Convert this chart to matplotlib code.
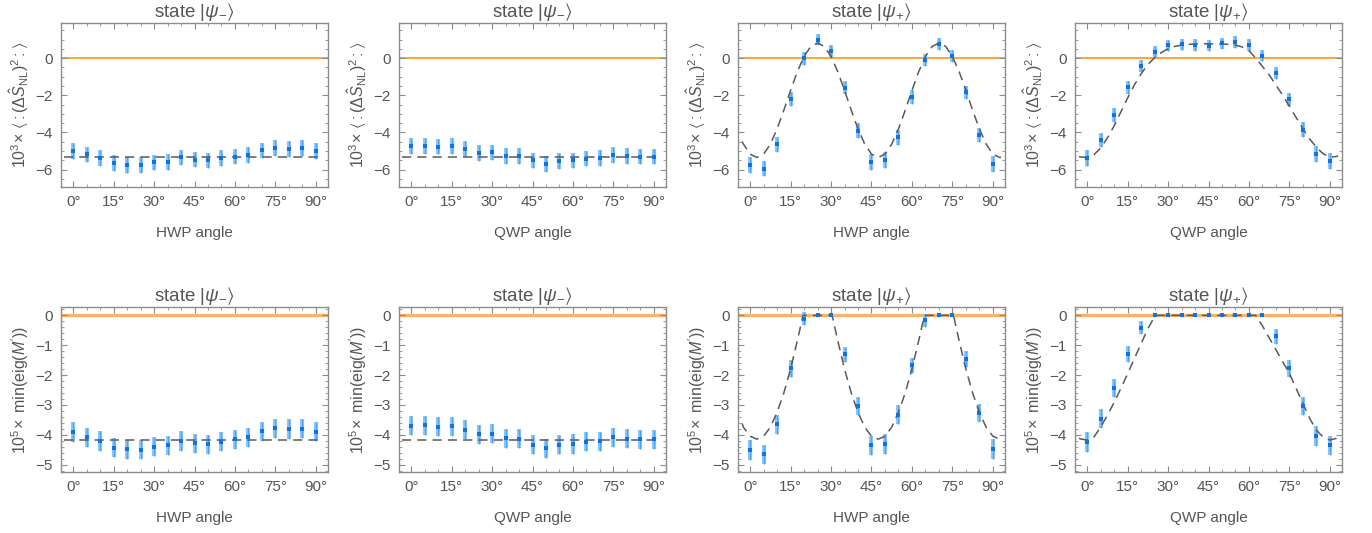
import matplotlib
matplotlib.use("Agg")
import matplotlib.pyplot as plt
from matplotlib.ticker import MultipleLocator, FixedLocator

plt.rcParams['font.family'] = ['Liberation Sans', 'DejaVu Sans']
plt.rcParams['mathtext.fontset'] = 'custom'
plt.rcParams['mathtext.rm'] = 'Liberation Sans'
plt.rcParams['mathtext.it'] = 'Liberation Sans:italic'
plt.rcParams['mathtext.bf'] = 'Liberation Sans:bold'
plt.rcParams['mathtext.fallback'] = 'stixsans'

# ---------------- data ----------------
angles = [0, 5, 10, 15, 20, 25, 30, 35, 40, 45, 50, 55, 60, 65, 70, 75, 80, 85, 90]
xticks = [0, 15, 30, 45, 60, 75, 90]
xticklabels = ["0°", "15°", "30°", "45°", "60°", "75°", "90°"]

titles = [r"state $|\psi_{-}\rangle$", r"state $|\psi_{-}\rangle$",
          r"state $|\psi_{+}\rangle$", r"state $|\psi_{+}\rangle$"]
xlabels = ["HWP angle", "QWP angle", "HWP angle", "QWP angle"]
ylabel_top = r"$10^3\!\times\,\langle{:}(\Delta\hat{S}_{\mathrm{NL}})^2{:}\rangle$"
ylabel_bot = r"$10^5\!\times$ min(eig($M'$))"

# top row: 10^3 x <:(dS_NL)^2:>
top_minus_hwp = [-5.01, -5.19, -5.37, -5.66, -5.75, -5.75, -5.62, -5.59, -5.35, -5.46,
                 -5.51, -5.39, -5.30, -5.23, -4.97, -4.83, -4.88, -4.85, -4.99]
top_minus_qwp = [-4.74, -4.72, -4.77, -4.74, -4.90, -5.12, -5.08, -5.26, -5.26, -5.51,
                 -5.71, -5.53, -5.51, -5.41, -5.37, -5.21, -5.28, -5.30, -5.30]
top_plus_hwp = [-5.75, -5.95, -4.63, -2.20, -0.02, 0.99, 0.36, -1.59, -3.91, -5.59,
                -5.50, -4.27, -2.09, -0.11, 0.77, 0.09, -1.84, -4.14, -5.69]
top_plus_qwp = [-5.39, -4.41, -3.08, -1.57, -0.43, 0.32, 0.68, 0.74, 0.70, 0.67,
                0.79, 0.86, 0.70, 0.14, -0.81, -2.22, -3.86, -5.15, -5.53]

err_top_minus = [0.42] * 19
err_top_plus_hwp = [0.42, 0.42, 0.40, 0.36, 0.33, 0.31, 0.32, 0.35, 0.40, 0.42,
                    0.42, 0.40, 0.36, 0.33, 0.31, 0.32, 0.36, 0.40, 0.42]
err_top_plus_qwp = [0.42, 0.40, 0.38, 0.35, 0.33, 0.32, 0.31, 0.31, 0.31, 0.31,
                    0.31, 0.31, 0.31, 0.32, 0.34, 0.36, 0.40, 0.42, 0.42]

# bottom row: 10^5 x min(eig(M'))
bot_minus_hwp = [-3.91, -4.09, -4.21, -4.43, -4.49, -4.51, -4.40, -4.36, -4.21, -4.28,
                 -4.32, -4.23, -4.15, -4.09, -3.89, -3.78, -3.81, -3.80, -3.90]
bot_minus_qwp = [-3.70, -3.69, -3.74, -3.71, -3.84, -3.99, -3.97, -4.12, -4.13, -4.34,
                 -4.46, -4.34, -4.31, -4.24, -4.22, -4.09, -4.14, -4.15, -4.15]
bot_plus_hwp = [-4.51, -4.66, -3.65, -1.78, -0.11, 0.0, 0.0, -1.30, -3.05, -4.36,
                -4.30, -3.33, -1.68, -0.16, 0.0, 0.0, -1.47, -3.27, -4.47]
bot_plus_qwp = [-4.24, -3.46, -2.43, -1.29, -0.41, 0.0, 0.0, 0.0, 0.0, 0.0,
                0.0, 0.0, 0.0, 0.0, -0.70, -1.78, -3.03, -4.05, -4.36]

err_bot_minus = [0.32] * 19
err_bot_plus_hwp = [0.33, 0.33, 0.31, 0.27, 0.22, 0.0, 0.0, 0.25, 0.30, 0.33,
                    0.33, 0.31, 0.26, 0.22, 0.0, 0.0, 0.26, 0.31, 0.33]
err_bot_plus_qwp = [0.33, 0.32, 0.29, 0.26, 0.22, 0.0, 0.0, 0.0, 0.0, 0.0,
                    0.0, 0.0, 0.0, 0.0, 0.25, 0.27, 0.30, 0.33, 0.33]

# theory curves
th_const_x = [-3.5, 92.5]
th_top_minus = [-5.33, -5.33]
th_bot_minus = [-4.19, -4.19]

th_x_grid = [-3, -2.5, 0, 2.5, 5, 7.5, 10, 12.5, 15, 17.5, 20, 22.5, 25, 27.5, 30, 32.5,
             35, 37.5, 40, 42.5, 45, 47.5, 50, 52.5, 55, 57.5, 60, 62.5, 65, 67.5, 70,
             72.5, 75, 77.5, 80, 82.5, 85, 87.5, 90, 92.5, 93]
th_top_plus_hwp = [-4.49, -4.63, -5.17, -5.35, -5.17, -4.63, -3.81, -2.81, -1.74, -0.73,
                   0.09, 0.63, 0.81, 0.63, 0.09, -0.73, -1.74, -2.81, -3.81, -4.63,
                   -5.17, -5.35, -5.17, -4.63, -3.81, -2.81, -1.74, -0.73, 0.09, 0.63,
                   0.81, 0.63, 0.09, -0.73, -1.74, -2.81, -3.81, -4.63, -5.17, -5.35, -5.34]
th_top_plus_qwp = [-5.30, -5.32, -5.35, -5.20, -4.85, -4.30, -3.65, -2.90, -2.15, -1.45,
                   -0.85, -0.35, 0.02, 0.30, 0.50, 0.63, 0.70, 0.74, 0.76, 0.77,
                   0.77, 0.77, 0.76, 0.74, 0.70, 0.60, 0.40, 0.00, -0.45, -0.90,
                   -1.45, -2.00, -2.60, -3.20, -3.80, -4.35, -4.80, -5.15, -5.33, -5.30, -5.25]

th_x_bot_hwp = [-3, -2.5, 0, 2.5, 5, 7.5, 10, 12.5, 15, 17.5, 19.6, 22.5, 25, 27.5, 30.4,
                32.5, 35, 37.5, 40, 42.5, 45, 47.5, 50, 52.5, 55, 57.5, 60, 62.5, 64.6,
                67.5, 70, 72.5, 75.4, 77.5, 80, 82.5, 85, 87.5, 90, 92.5, 93]
th_bot_plus_hwp = [-3.62, -3.75, -4.05, -4.15, -4.05, -3.75, -3.25, -2.60, -1.80, -0.85,
                   0.0, 0.0, 0.0, 0.0, 0.0,
                   -0.85, -1.80, -2.60, -3.25, -3.75, -4.05, -4.15, -4.05, -3.75, -3.25,
                   -2.60, -1.80, -0.85, 0.0, 0.0, 0.0, 0.0, 0.0,
                   -0.85, -1.80, -2.60, -3.25, -3.75, -4.05, -4.15, -4.14]

th_x_bot_qwp = [-3, -2.5, 0, 2.5, 5, 7.5, 10, 12.5, 15, 17.5, 20, 22.5, 25, 25.5, 62.5,
                65, 67.5, 70, 72.5, 75, 77.5, 80, 82.5, 85, 87.5, 90, 92.5, 93]
th_bot_plus_qwp = [-4.12, -4.14, -4.18, -4.08, -3.75, -3.35, -2.92, -2.45, -1.96, -1.45,
                   -0.95, -0.45, -0.05, 0.0, 0.0,
                   -0.35, -0.75, -1.15, -1.55, -1.95, -2.45, -2.95, -3.45, -3.85, -4.08,
                   -4.18, -4.12, -4.08]

# ---------------- style ----------------
TXT = "#555555"
FRAME = "#8c8c8c"
BAR_LIGHT = "#8ec6f7"
BAR_MID = "#4ea3f2"
PT = "#1273de"
THEORY = "#5a5a5a"

fig = plt.figure(figsize=(13.72, 5.33), dpi=100)
W, H = 1372.0, 533.0
lefts = [61, 399, 738, 1075]
width = 267
rows = [(23, 187), (307, 472)]

panels = [
    (top_minus_hwp, err_top_minus, th_const_x, th_top_minus),
    (top_minus_qwp, err_top_minus, th_const_x, th_top_minus),
    (top_plus_hwp, err_top_plus_hwp, th_x_grid, th_top_plus_hwp),
    (top_plus_qwp, err_top_plus_qwp, th_x_grid, th_top_plus_qwp),
    (bot_minus_hwp, err_bot_minus, th_const_x, th_bot_minus),
    (bot_minus_qwp, err_bot_minus, th_const_x, th_bot_minus),
    (bot_plus_hwp, err_bot_plus_hwp, th_x_bot_hwp, th_bot_plus_hwp),
    (bot_plus_qwp, err_bot_plus_qwp, th_x_bot_qwp, th_bot_plus_qwp),
]

for idx, (vals, errs, tx, ty) in enumerate(panels):
    r, c = divmod(idx, 4)
    top, bot = rows[r]
    ax = fig.add_axes([lefts[c] / W, 1 - bot / H, width / W, (bot - top) / H])

    if r == 0:
        ax.axhline(0, color="#ff8c00", lw=1.1, zorder=1)
        ax.set_ylim(-6.94, 1.89)
        ax.yaxis.set_major_locator(FixedLocator([-6, -4, -2, 0]))
        ax.yaxis.set_minor_locator(MultipleLocator(0.5))
        ax.set_yticklabels(["\u22126", "\u22124", "\u22122", "0"])
        ax.set_ylabel(ylabel_top, fontsize=11.5, color=TXT, labelpad=3)
    else:
        ax.axhline(0, color="#f9b36b", lw=2.4, zorder=1)
        ax.set_ylim(-5.25, 0.28)
        ax.yaxis.set_major_locator(FixedLocator([-5, -4, -3, -2, -1, 0]))
        ax.yaxis.set_minor_locator(MultipleLocator(0.2))
        ax.set_yticklabels(["\u22125", "\u22124", "\u22123", "\u22122", "\u22121", "0"])
        ax.set_ylabel(ylabel_bot, fontsize=11.5, color=TXT, labelpad=3)

    ax.errorbar(angles, vals, yerr=errs, fmt="none", ecolor=BAR_LIGHT,
                elinewidth=3.0, capsize=0, zorder=2)
    ax.errorbar(angles, vals, yerr=errs, fmt="none", ecolor=BAR_MID,
                elinewidth=0.9, capsize=0, zorder=3)
    ax.plot(tx, ty, color=THEORY, lw=1.1, dashes=(6, 4), zorder=4)
    ax.plot(angles, vals, "s", ms=2.2, color=PT, mew=0, zorder=5)

    ax.set_xlim(-4.5, 94.5)
    ax.xaxis.set_major_locator(FixedLocator(xticks))
    ax.xaxis.set_minor_locator(MultipleLocator(5))
    ax.set_xticklabels(xticklabels)

    ax.set_title(titles[c], fontsize=13.5, color=TXT, pad=3)
    ax.set_xlabel(xlabels[c], fontsize=11, color=TXT, labelpad=12)

    for s in ax.spines.values():
        s.set_color(FRAME)
        s.set_linewidth(1.0)
    ax.tick_params(which="both", direction="in", top=True, right=True,
                   colors=FRAME, labelcolor=TXT, labelsize=11)
    ax.tick_params(which="major", length=4.5, width=0.8, pad=6)
    ax.tick_params(which="minor", length=2.5, width=0.6)

fig.savefig("out.png", dpi=100)
